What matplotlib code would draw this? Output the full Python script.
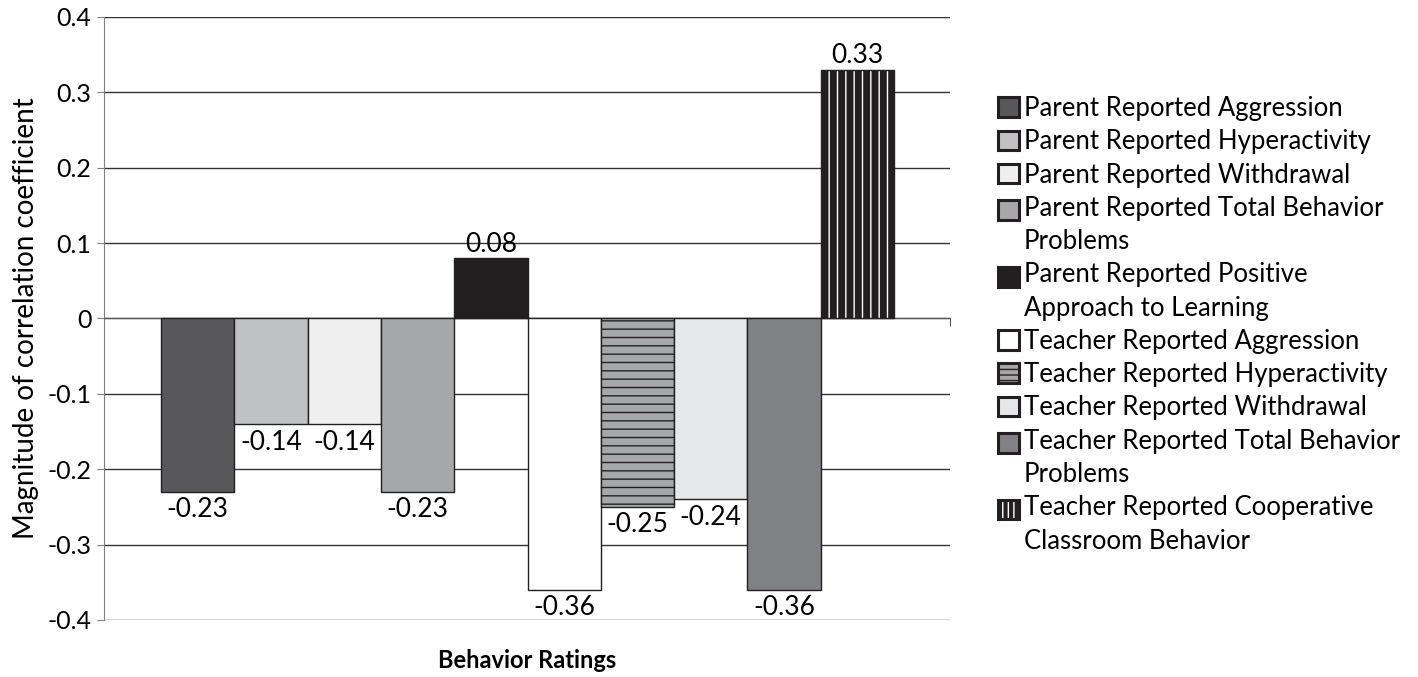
import numpy as np
import matplotlib
matplotlib.use("Agg")
import matplotlib.pyplot as plt
from matplotlib.patches import Patch, Rectangle
from matplotlib.legend_handler import HandlerTuple, HandlerPatch

plt.rcParams['font.family'] = ['Lato', 'DejaVu Sans']

series = [
    "Parent Reported Aggression",
    "Parent Reported Hyperactivity",
    "Parent Reported Withdrawal",
    "Parent Reported Total Behavior\nProblems",
    "Parent Reported Positive\nApproach to Learning",
    "Teacher Reported Aggression",
    "Teacher Reported Hyperactivity",
    "Teacher Reported Withdrawal",
    "Teacher Reported Total Behavior\nProblems",
    "Teacher Reported Cooperative\nClassroom Behavior",
]
values = [-0.23, -0.14, -0.14, -0.23, 0.08, -0.36, -0.25, -0.24, -0.36, 0.33]
yticks = [-0.4, -0.3, -0.2, -0.1, 0, 0.1, 0.2, 0.3, 0.4]
ytick_labels = ["-0.4", "-0.3", "-0.2", "-0.1", "0", "0.1", "0.2", "0.3", "0.4"]

faces = ['#58585a', '#c0c1c3', '#efefef', '#a6a7a9', '#231f20',
         '#ffffff', '#a6a7a9', '#e6e7e8', '#808184', '#231f20']
edge = '#231f20'

fig = plt.figure(figsize=(14.18, 6.77), dpi=100)
ax = fig.add_axes([0.0733, 0.0842, 0.5967, 0.8908])

x = np.arange(len(values))
for i, (v, fc) in enumerate(zip(values, faces)):
    if i == 6:
        ax.bar(x[i], v, 1.0, color=fc, edgecolor=edge, hatch='--',
               linewidth=1, zorder=3)
    elif i == 9:
        ax.bar(x[i], v, 1.0, color=fc, edgecolor='white', hatch='||',
               linewidth=0, zorder=3)
        ax.bar(x[i], v, 1.0, color='none', edgecolor=edge, linewidth=1, zorder=4)
    else:
        ax.bar(x[i], v, 1.0, color=fc, edgecolor=edge, linewidth=1, zorder=3)

for xi, v in zip(x, values):
    txt = "%.2f" % v
    if v < 0:
        ax.annotate(txt, (xi, v), xytext=(0, -4), textcoords='offset points',
                    ha='center', va='top', fontsize=19, annotation_clip=False)
    else:
        ax.annotate(txt, (xi, v), xytext=(0, 1), textcoords='offset points',
                    ha='center', va='bottom', fontsize=19, annotation_clip=False)

ax.set_xlim(-0.5 - 0.777, 9.5 + 0.763)
ax.set_ylim(-0.4, 0.4)
ax.set_yticks(yticks)
ax.set_yticklabels(ytick_labels, fontsize=18)
ax.grid(axis='y', color='#333333', linewidth=1, zorder=0)
ax.set_axisbelow(True)

for s in ['top', 'right']:
    ax.spines[s].set_visible(False)
ax.spines['left'].set_color('#808080')
ax.spines['bottom'].set_position(('data', 0))
ax.spines['bottom'].set_color('#555555')
ax.set_xticks([ax.get_xlim()[1]])
ax.set_xticklabels([''])
ax.tick_params(axis='x', direction='out', length=6, color='#555555')
ax.tick_params(axis='y', direction='out', length=5, color='#808080', pad=4)

ax.set_ylabel("Magnitude of correlation coefficient", fontsize=20, labelpad=6)
fig.text(0.372, 0.025, "Behavior Ratings", fontsize=17, fontweight='bold',
         ha='center', va='center')


# for wrapped labels the box sits beside the first line, not the middle
def first_line(legend, orig_handle, xdescent, ydescent, width, height, fontsize):
    return Rectangle((-xdescent, -ydescent + 11.5), width, height)


handles = []
hmap = {tuple: HandlerTuple(ndivide=1, pad=0)}
for i, fc in enumerate(faces):
    two = "\n" in series[i]
    if i == 6:
        h = Patch(facecolor=fc, edgecolor=edge, hatch='---', linewidth=2.2)
        parts = [h]
        handles.append(h)
    elif i == 9:
        h1 = Patch(facecolor=fc, edgecolor='white', hatch='|||', linewidth=0)
        h2 = Patch(facecolor='none', edgecolor=edge, linewidth=2.2)
        parts = [h1, h2]
        handles.append((h1, h2))
    else:
        h = Patch(facecolor=fc, edgecolor=edge, linewidth=2.2)
        parts = [h]
        handles.append(h)
    if two:
        for p in parts:
            hmap[p] = HandlerPatch(patch_func=first_line)

leg = fig.legend(handles, series, loc='upper left', bbox_to_anchor=(0.695, 0.877),
                 frameon=False, fontsize=18.5, handlelength=0.8, handleheight=0.8,
                 handletextpad=0.2, labelspacing=0.32, borderpad=0,
                 handler_map=hmap)
for t in leg.get_texts():
    t.set_linespacing(1.42)

fig.savefig("out.png", dpi=100)
